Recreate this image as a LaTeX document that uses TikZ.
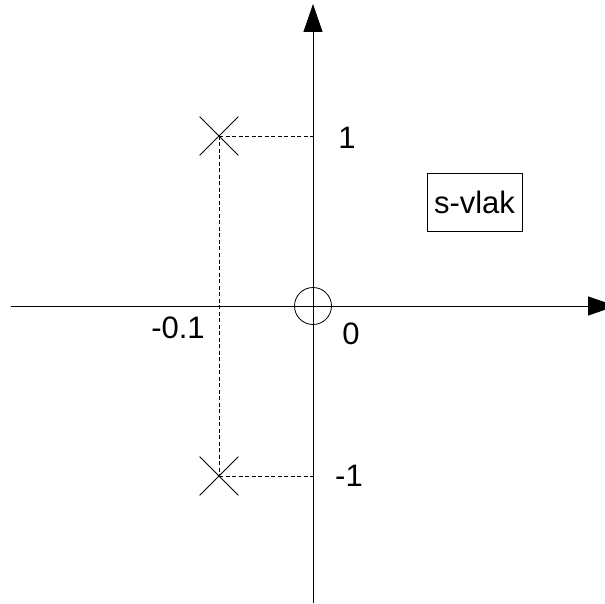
\documentclass[tikz,border=0pt]{standalone}
\usepackage{fontspec}
\setmainfont{Liberation Sans}
\usetikzlibrary{arrows.meta,positioning,shapes.misc}
\tikzset{
  axis/.style={line width=1pt,-{Triangle[length=28pt,width=19pt]}},
  pole/.style={cross out,draw,line width=0.8pt,minimum size=38pt,inner sep=0pt},
  zero/.style={circle,draw,line width=0.8pt,minimum size=37pt,inner sep=0pt},
  helpline/.style={line width=0.8pt,dash pattern=on 4pt off 2.5pt},
  lbl/.style={inner sep=0pt,font=\fontsize{31}{37}\selectfont}
}
\begin{document}
\begin{tikzpicture}[x=1pt,y=-1pt]
\clip (0,0) rectangle (605,604);
% axes
\coordinate (xl) at (11,306);
\coordinate (xr) at (616,306);
\coordinate (yb) at (313,603);
\coordinate (yt) at (313,4);
\draw[axis] (xl) -- (xr);
\draw[axis] (yb) -- (yt);
% poles and zero
\node[pole] (p1) at (219,136) {};
\node[pole] (p2) at (219,476) {};
\node[zero] (z0) at (313,306) {};
% projection onto the axes
\coordinate (im1) at (313,136);
\coordinate (im2) at (313,476);
\draw[helpline] (p1.center) -- (im1);
\draw[helpline] (p2.center) -- (im2);
\draw[helpline] (p1.center) -- (p2.center);
% labels
\node[lbl] (one) at (347,138) {1};
\node[lbl] (mone) at (349,476) {-1};
\node[lbl] (nul) at (351,334) {0};
\node[lbl] (re) at (178,328) {-0.1};
\node[lbl,draw,line width=0.8pt,minimum width=95pt,minimum height=58pt] (plane) at (474.5,202) {s-vlak};
\end{tikzpicture}
\end{document}
